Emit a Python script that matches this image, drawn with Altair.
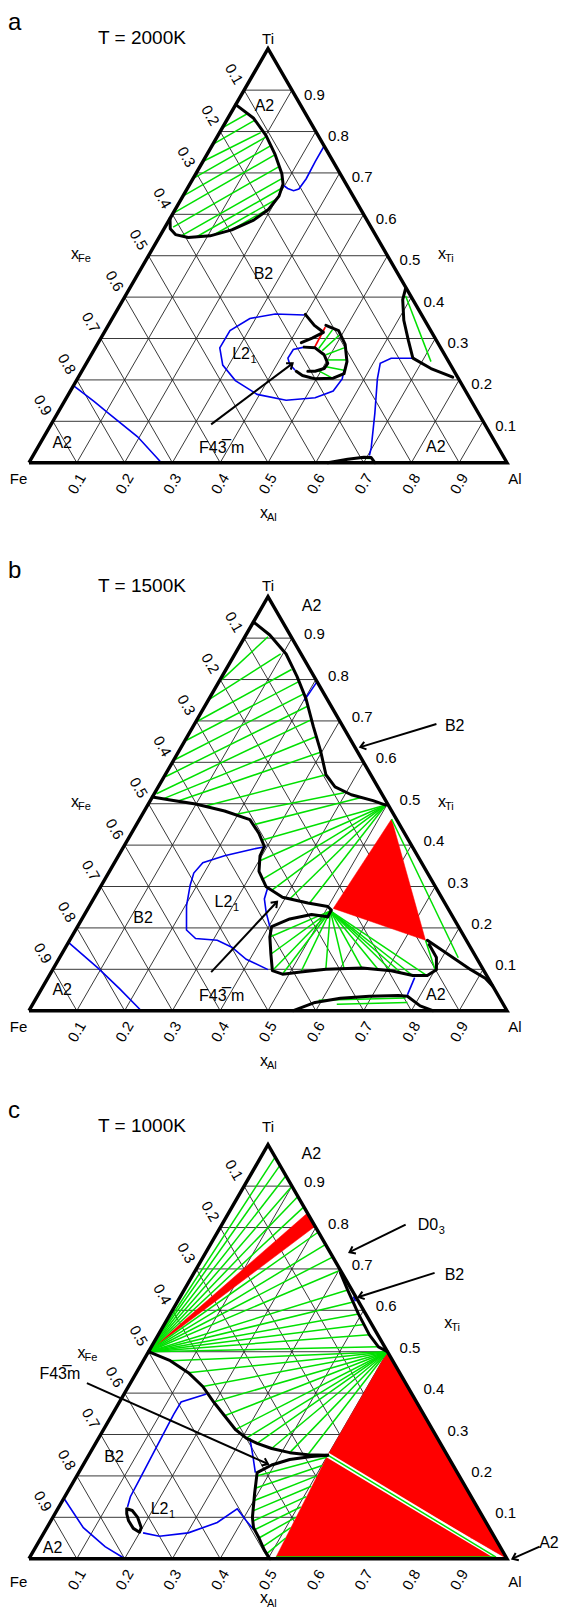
import math
import altair as alt
import pandas as pd

# ------------------------------------------------------------------ data
# all compositions are (x_Al, x_Ti); x_Fe = 1 - x_Al - x_Ti
PANELS = ["a", "b", "c"]
TEMPS = ["T = 2000K", "T = 1500K", "T = 1000K"]
TICKS = [0.1, 0.2, 0.3, 0.4, 0.5, 0.6, 0.7, 0.8, 0.9]
TICK_LABELS = ["0.1", "0.2", "0.3", "0.4", "0.5", "0.6", "0.7", "0.8", "0.9"]

# ---- panel a (2000 K)
A_BLACK_TL = [(0.0, 0.865), (0.054, 0.832), (0.101, 0.79), (0.143, 0.744), (0.180, 0.698), (0.195, 0.673),
              (0.201, 0.644), (0.195, 0.611), (0.177, 0.586), (0.143, 0.5625), (0.105, 0.548), (0.061, 0.544),
              (0.031, 0.551), (0.013, 0.565), (0.0, 0.59)]
A_TIES_TL = [((0, 0.809), (0.035, 0.843)), ((0, 0.769), (0.059, 0.8275)), ((0, 0.7275), (0.086, 0.7975)),
             ((0, 0.686), (0.103, 0.7875)), ((0, 0.644), (0.123, 0.766)), ((0, 0.6025), (0.143, 0.744)),
             ((0.017, 0.569), (0.166, 0.716)), ((0.044, 0.5475), (0.187, 0.6875)), ((0.076, 0.544), (0.197, 0.663)),
             ((0.111, 0.55), (0.2, 0.637)), ((0.143, 0.5625), (0.195, 0.614))]
A_BLUE_TR = [(0.235, 0.765), (0.235, 0.7275), (0.237, 0.686), (0.234, 0.661), (0.225, 0.657), (0.210, 0.6625), (0.199, 0.669)]
A_BLUE_BL = [(0.0, 0.186), (0.062, 0.148), (0.107, 0.119), (0.196, 0.0625), (0.277, 0.0)]
A_BLUE_LOOP = [(0.3975, 0.3567), (0.3356, 0.3592), (0.2879, 0.3483), (0.2609, 0.3192), (0.2604, 0.2775),
               (0.2874, 0.2358), (0.3326, 0.1983), (0.3948, 0.165), (0.4625, 0.1508), (0.5202, 0.1567),
               (0.5497, 0.1733), (0.554, 0.2025), (0.5474, 0.2233)]
A_BLUE_INNER = [(0.4362, 0.2792), (0.4163, 0.2733), (0.4154, 0.2525), (0.4267, 0.2375), (0.4451, 0.2233)]
A_BLACK_M1 = [(0.3989, 0.3583), (0.4311, 0.3317), (0.4584, 0.315), (0.442, 0.3008), (0.4247, 0.29)]
A_BLACK_M2 = [(0.4553, 0.3317), (0.4881, 0.3192), (0.5185, 0.2858), (0.5431, 0.2442), (0.5516, 0.215),
              (0.5343, 0.2042), (0.4972, 0.2025), (0.4666, 0.2108), (0.4487, 0.2208)]
A_BLACK_M3 = [(0.4362, 0.2792), (0.4597, 0.2775), (0.487, 0.2608), (0.505, 0.24), (0.5037, 0.2275),
              (0.4881, 0.2208), (0.4729, 0.2208)]
A_TIES_M = [((0.5008, 0.2483), (0.5387, 0.2483)), ((0.4908, 0.2608), (0.5203, 0.2775)),
            ((0.4782, 0.2708), (0.4954, 0.3092)), ((0.4682, 0.2758), (0.4744, 0.3208)),
            ((0.5054, 0.2317), (0.5475, 0.2233)), ((0.4953, 0.2217), (0.5327, 0.2042))]
A_RED_TIES = [((0.4582, 0.2775), (0.456, 0.3275))]
A_BLACK_R = [(0.5775, 0.4208), (0.5847, 0.3942), (0.612, 0.3442), (0.6468, 0.2942), (0.6768, 0.2525),
             (0.7272, 0.2275), (0.7831, 0.2067)]
A_TIES_R = [((0.5867, 0.4025), (0.7188, 0.2442))]
A_BLUE_R = [(0.6806, 0.2525), (0.6313, 0.2525), (0.6148, 0.24), (0.6276, 0.2025), (0.6639, 0.1192),
            (0.698, 0.0358), (0.7034, 0.0175)]
A_BLACK_B = [(0.625, 0.0), (0.6625, 0.0083), (0.6941, 0.0133), (0.7096, 0.0125), (0.7235, 0.0)]
A_TIES_B = [((0.694, 0.011), (0.709, 0.010))]

# ---- panel b (1500 K)
B_BLACK_1 = [(0, 0.939), (0.05, 0.9075), (0.107, 0.8617), (0.1569, 0.8075), (0.2029, 0.7533), (0.2514, 0.6867),
             (0.2957, 0.6283), (0.3362, 0.57), (0.3698, 0.5408), (0.4134, 0.5217), (0.466, 0.5075), (0.4979, 0.4967)]
B_BLACK_2 = [(0.0, 0.516), (0.0409, 0.5092), (0.0989, 0.4992), (0.1679, 0.4825), (0.2313, 0.4617), (0.2669, 0.4283),
             (0.2941, 0.3967), (0.2962, 0.3742), (0.3128, 0.3367), (0.3466, 0.2992), (0.3932, 0.2742),
             (0.4533, 0.26), (0.4992, 0.2517), (0.5109, 0.2433), (0.5117, 0.2267)]
B_BLACK_3 = [(0.5117, 0.2267), (0.4747, 0.2325), (0.4347, 0.2217), (0.4059, 0.2033), (0.4147, 0.1783),
             (0.4377, 0.1367), (0.4608, 0.0967), (0.4862, 0.0883), (0.5216, 0.0933), (0.5712, 0.1),
             (0.6453, 0.1033), (0.7093, 0.0967), (0.7605, 0.085), (0.7908, 0.085), (0.8027, 0.0992),
             (0.7882, 0.1283), (0.7571, 0.16)]
B_BLACK_4 = [(0.7483, 0.17), (0.8008, 0.1408), (0.8746, 0.0992), (0.9153, 0.0783), (0.9397, 0.06)]
B_BLACK_5 = [(0.553, 0.0), (0.5885, 0.02), (0.6365, 0.03), (0.6946, 0.035), (0.7544, 0.0367), (0.7742, 0.035),
             (0.8124, 0.0117), (0.8447, 0.0)]
B_RED = [(0.527, 0.463), (0.513, 0.247), (0.7445, 0.17)]
B_BLUE_1 = [(0.2054, 0.7967), (0.2012, 0.7492)]
B_BLUE_2 = [(0.2979, 0.3967), (0.2743, 0.3908), (0.222, 0.3742), (0.1849, 0.3575), (0.1785, 0.3325),
            (0.1855, 0.3033), (0.2029, 0.2533), (0.232, 0.195), (0.2614, 0.1742), (0.3089, 0.17),
            (0.3476, 0.1533), (0.3924, 0.1242), (0.4504, 0.0992)]
B_BLUE_3 = [(0.3504, 0.2992), (0.3574, 0.27), (0.3779, 0.2367), (0.4021, 0.2033)]
B_BLUE_4 = [(0.0, 0.165), (0.0923, 0.1033), (0.1627, 0.0533), (0.2348, 0.0)]
B_BLUE_5 = [(0.7668, 0.08), (0.7725, 0.0383)]
B_TIES_UP = [((0.0034, 0.7992), (0.0483, 0.9033)), ((0.0021, 0.7533), (0.0957, 0.8617)),
             ((0.0027, 0.6992), (0.1371, 0.8242)), ((0.0029, 0.6533), (0.1669, 0.795)),
             ((0.0031, 0.6075), (0.1929, 0.7658)), ((0.0035, 0.5658), (0.2165, 0.7367)),
             ((0.0046, 0.5242), (0.2393, 0.7033)), ((0.0245, 0.5117), (0.2692, 0.6617)),
             ((0.0577, 0.5058), (0.2977, 0.6242)), ((0.1237, 0.495), (0.3362, 0.57)),
             ((0.1947, 0.4742), (0.3958, 0.5267)), ((0.2451, 0.4492), (0.4391, 0.5158))]
B_FAN1_FROM = (0.498, 0.497)
B_FAN1_TO = [(0.2806, 0.4117), (0.301, 0.3617), (0.3285, 0.3158), (0.3622, 0.2908), (0.4105, 0.27), (0.4571, 0.26)]
B_FAN2_FROM = (0.51, 0.241)
B_FAN2_TO = [(0.415, 0.178), (0.438, 0.137), (0.461, 0.097), (0.486, 0.088), (0.522, 0.093), (0.571, 0.1),
             (0.608, 0.102), (0.645, 0.103), (0.68, 0.1), (0.709, 0.097), (0.735, 0.09), (0.76, 0.085), (0.79, 0.085)]
B_TIES_R = [((0.527, 0.463), (0.834, 0.128)), ((0.7445, 0.17), (0.80, 0.099))]
B_TIES_BOT = [((0.5936, 0.025), (0.7725, 0.0308)), ((0.636, 0.0158), (0.7817, 0.02))]

# ---- panel c (1000 K)
C_BLACK_1 = [(0, 0.5), (0.0563, 0.4784), (0.1087, 0.4493), (0.1556, 0.416), (0.1971, 0.3785), (0.2364, 0.3453),
             (0.2758, 0.312), (0.3089, 0.2912), (0.3379, 0.2787), (0.3745, 0.2662), (0.4174, 0.2562),
             (0.4577, 0.2512), (0.5, 0.25)]
C_BLACK_2 = [(0.5, 0.25), (0.4674, 0.2471), (0.4257, 0.2396), (0.3945, 0.2263), (0.3733, 0.208), (0.393, 0.1581),
             (0.4175, 0.0998), (0.4323, 0.0749), (0.4562, 0.0499), (0.482, 0.0208), (0.504, 0.0)]
C_BLACK_3 = [(0.3063, 0.6905), (0.3423, 0.6489), (0.3941, 0.5907), (0.4417, 0.5408), (0.4753, 0.5116), (0.5, 0.5)]
C_BLACK_LOOP = [(0.1442, 0.1206), (0.1577, 0.1165), (0.1774, 0.0998), (0.1974, 0.0749), (0.1991, 0.0641),
                (0.1816, 0.0732), (0.1626, 0.0915), (0.1504, 0.1082), (0.1442, 0.1206)]
C_RED_BAND = [(0, 0.5), (0.165, 0.835), (0.197, 0.803)]
C_RED_UP = [(0.5, 0.5), (0.5, 0.25), (1.0, 0.0)]
C_RED_LOW = [(0.5, 0.25), (0.515, 0.0), (0.985, 0.0)]
C_WHITE = [((0.5, 0.25), (0.985, 0.0))]
C_TIES_SEP = [((0.5, 0.25), (0.975, 0.004)), ((0.515, 0.004), (0.975, 0.004))]
C_BLUE_1 = [(0.1724, 0.3977), (0.1289, 0.3785), (0.1283, 0.3494), (0.1306, 0.2995), (0.1328, 0.2496),
            (0.1354, 0.1913), (0.1372, 0.1498), (0.1437, 0.1248)]
C_BLUE_2 = [(0.2074, 0.0624), (0.2457, 0.0541), (0.3021, 0.0624), (0.3502, 0.0874), (0.3753, 0.1206),
            (0.4088, 0.0915), (0.4344, 0.0707)]
C_BLUE_3 = [(0.3165, 0.2912), (0.3434, 0.2496), (0.3695, 0.208)]
C_BLUE_4 = [(0.0, 0.146), (0.0762, 0.0749), (0.1446, 0.0291), (0.2008, 0.0)]
C_BLUE_5 = [(0.362, 0.633), (0.372, 0.622)]
C_FAN1_FROM = (0.0, 0.5)
C_FAN1_TO = [(0.03, 0.97), (0.05, 0.95), (0.075, 0.925), (0.10, 0.90), (0.125, 0.875), (0.15, 0.85),
             (0.21, 0.788), (0.24, 0.758), (0.27, 0.728), (0.30, 0.695), (0.342, 0.649), (0.368, 0.62),
             (0.394, 0.591), (0.418, 0.566), (0.442, 0.541), (0.475, 0.512)]
C_FAN2_FROM = (0.5, 0.5)
C_FAN2_TO = [(0.0563, 0.4784), (0.1087, 0.4493), (0.1556, 0.416), (0.1971, 0.3785), (0.2364, 0.3453),
             (0.2758, 0.312), (0.3089, 0.2912), (0.3379, 0.2787), (0.3745, 0.2662), (0.4174, 0.2562), (0.4577, 0.2512)]
C_TIES_LOW = [((0.376, 0.20), (0.5, 0.245)), ((0.388, 0.17), (0.501, 0.225)), ((0.40, 0.14), (0.502, 0.2)),
              ((0.41, 0.115), (0.503, 0.175)), ((0.422, 0.09), (0.505, 0.15)), ((0.437, 0.07), (0.506, 0.125)),
              ((0.456, 0.05), (0.508, 0.1)), ((0.475, 0.03), (0.51, 0.075)), ((0.49, 0.01), (0.512, 0.05))]

# phase labels: (text, subscript, x_Al, x_Ti)
LABELS = {
    "a": [("A2", "", 0.062, 0.861), ("B2", "", 0.263, 0.455), ("L2", "1", 0.331, 0.2625),
          ("A2", "", 0.0455, 0.048), ("A2", "", 0.832, 0.038), ("F43\u0305 m", "", 0.385, 0.036)],
    "b": [("A2", "", 0.102, 0.978), ("B2", "", 0.547, 0.687), ("L2", "1", 0.294, 0.263),
          ("B2", "", 0.1265, 0.224), ("A2", "", 0.045, 0.049), ("A2", "", 0.8325, 0.037),
          ("F43\u0305 m", "", 0.3855, 0.035)],
    "c": [("A2", "", 0.102, 0.9775), ("D0", "3", 0.4526, 0.807), ("B2", "", 0.547, 0.686),
          ("F43\u0305m", "", -0.158, 0.445), ("B2", "", 0.0553, 0.2454), ("L2", "1", 0.2314, 0.1206),
          ("A2", "", 0.0367, 0.025), ("A2", "", 1.069, 0.0374)],
}
ARROWS = {
    "a": [((0.3348, 0.0925), (0.4315, 0.24))],
    "b": [((0.5061, 0.6925), (0.3748, 0.6367)), ((0.3344, 0.0933), (0.3873, 0.2633))],
    "c": [((0.3844, 0.807), (0.3003, 0.7404)), ((0.5033, 0.6905), (0.3733, 0.6323)),
          ((-0.091, 0.4243), (0.3856, 0.2288)), ((1.0536, 0.0291), (1.0114, 0.0))],
}

BLACK = {"a": [A_BLACK_TL, A_BLACK_M1, A_BLACK_M2, A_BLACK_M3, A_BLACK_R, A_BLACK_B],
         "b": [B_BLACK_1, B_BLACK_2, B_BLACK_3, B_BLACK_4, B_BLACK_5],
         "c": [C_BLACK_1, C_BLACK_2, C_BLACK_3, C_BLACK_LOOP]}
BLUE = {"a": [A_BLUE_TR, A_BLUE_BL, A_BLUE_LOOP, A_BLUE_INNER, A_BLUE_R],
        "b": [B_BLUE_1, B_BLUE_2, B_BLUE_3, B_BLUE_4, B_BLUE_5],
        "c": [C_BLUE_1, C_BLUE_2, C_BLUE_3, C_BLUE_4, C_BLUE_5]}
RED_FILL = {"a": [], "b": [B_RED], "c": [C_RED_BAND, C_RED_UP, C_RED_LOW]}
GREEN = {
    "a": A_TIES_TL + A_TIES_M + A_TIES_R + A_TIES_B,
    "b": B_TIES_UP + [(B_FAN1_FROM, p) for p in B_FAN1_TO] + [(B_FAN2_FROM, p) for p in B_FAN2_TO]
         + B_TIES_R + B_TIES_BOT,
    "c": [(C_FAN1_FROM, p) for p in C_FAN1_TO] + [(C_FAN2_FROM, p) for p in C_FAN2_TO] + C_TIES_LOW + C_TIES_SEP,
}
RED_TIES = {"a": A_RED_TIES, "b": [], "c": []}
WHITE = {"a": [], "b": [], "c": C_WHITE}

# ------------------------------------------------------------------ layout
S3 = math.sqrt(3) / 2
SIDE = 478.0          # px per unit composition
W = 552
BASE = 454.7          # local px of the Fe-Al edge
LEFT = 21.0           # local px of the Fe corner
HEIGHTS = {"a": 548, "b": 548, "c": 506}
FONT = "Liberation Sans"


def to_uv(a, t):
    return a + t / 2.0, t * S3


line_rows, seg_rows, text_rows, arrow_rows = [], [], [], []


def add_line(p, kind, pts, pid):
    for i, (a, t) in enumerate(pts):
        u, v = to_uv(a, t)
        line_rows.append(dict(panel=p, kind=kind, pid=pid, order=i, u=u, v=v))


def add_seg(p, kind, p1, p2):
    u1, v1 = to_uv(*p1)
    u2, v2 = to_uv(*p2)
    seg_rows.append(dict(panel=p, kind=kind, u1=u1, v1=v1, u2=u2, v2=v2))


def add_text(p, text, u, v, size, angle=0, align="center", baseline="middle"):
    text_rows.append(dict(panel=p, text=text, u=u, v=v, size=size, angle=angle, align=align, baseline=baseline))


px = 1.0 / SIDE
for pi, p in enumerate(PANELS):
    # grid
    for k in TICKS:
        add_seg(p, "grid", (0, k), (1 - k, k))
        add_seg(p, "grid", (k, 0), (k, 1 - k))
        add_seg(p, "grid", (1 - k, 0), (0, 1 - k))
    add_line(p, "border", [(0, 0), (1, 0), (0, 1), (0, 0)], f"{p}border")
    for j, pts in enumerate(BLACK[p]):
        add_line(p, "black", pts, f"{p}k{j}")
    for j, pts in enumerate(BLUE[p]):
        add_line(p, "blue", pts, f"{p}b{j}")
    for j, pts in enumerate(RED_FILL[p]):
        add_line(p, "redfill", list(pts) + [pts[0]], f"{p}r{j}")
    for s in GREEN[p]:
        add_seg(p, "green", s[0], s[1])
    for s in RED_TIES[p]:
        add_seg(p, "red", s[0], s[1])
    for s in WHITE[p]:
        add_seg(p, "white", s[0], s[1])
    # tick labels
    ry = -4.5 if p == "a" else 4.0
    for k, lab in zip(TICKS, TICK_LABELS):
        u, v = to_uv(0, 1 - k)
        add_text(p, lab, u - 10 * px, v + 16 * px, 15, angle=60)
        u, v = to_uv(1 - k, k)
        add_text(p, lab, u + 22.5 * px, v + ry * px, 15)
        u, v = to_uv(k, 0)
        add_text(p, lab, u, v - 21 * px, 15, angle=300)
    cy = -23 if p == "c" else -16
    add_text(p, "Fe", -10.5 * px, cy * px, 15)
    add_text(p, "Al", 1 + 8 * px, cy * px, 15)
    top = {"a": (0.9052, 0.876, 0.876), "b": (0.905, 0.8766, 0.8776), "c": (0.922, 0.8923, 0.8937)}[p]
    add_text(p, p, -LEFT * px, top[0], 24, align="left", baseline="alphabetic")
    add_text(p, TEMPS[pi], 0.1444, top[1], 19, align="left", baseline="alphabetic")
    add_text(p, "Ti", 0.5, top[2], 15, baseline="alphabetic")
    # axis names with subscripts
    fe = (0.1015, 0.431) if p == "c" else (0.0879, 0.4372)
    ti = (0.8686, 0.4937) if p == "c" else (0.8556, 0.4372)
    al = (0.4833, -0.083) if p == "c" else (0.4833, -0.1052)
    for (u, v), sub in [(fe, "Fe"), (ti, "Ti"), (al, "Al")]:
        add_text(p, "x", u, v, 16, align="left")
        add_text(p, sub, u + 7 * px, v - 5.5 * px, 11, align="left")
    for text, sub, a, t in LABELS[p]:
        u, v = to_uv(a, t)
        if sub:
            add_text(p, text, u, v, 16, align="right")
            add_text(p, sub, u + 0.5 * px, v - 6 * px, 11, align="left")
        else:
            add_text(p, text, u, v, 16)
    for (p1, p2) in ARROWS[p]:
        u1, v1 = to_uv(*p1)
        u2, v2 = to_uv(*p2)
        ang = math.degrees(math.atan2(-(v2 - v1), (u2 - u1))) % 360
        arrow_rows.append(dict(panel=p, u1=u1, v1=v1, u2=u2, v2=v2, angle=ang))

lines_df = pd.DataFrame(line_rows)
seg_df = pd.DataFrame(seg_rows)
text_df = pd.DataFrame(text_rows)
arrow_df = pd.DataFrame(arrow_rows)


def panel_chart(p):
    H = HEIGHTS[p]
    xs = alt.Scale(domain=[-LEFT / SIDE, (W - LEFT) / SIDE], nice=False, zero=False)
    ys = alt.Scale(domain=[-(H - BASE) / SIDE, BASE / SIDE], nice=False, zero=False)

    def XY(xf, yf):
        return dict(x=alt.X(xf, type="quantitative", scale=xs, axis=None),
                    y=alt.Y(yf, type="quantitative", scale=ys, axis=None))

    layers = []
    seg = seg_df[seg_df.panel == p]
    ln = lines_df[lines_df.panel == p]

    def rules(kind, color, width):
        d = seg[seg.kind == kind]
        if len(d):
            layers.append(alt.Chart(d).mark_rule(color=color, strokeWidth=width).encode(
                **XY("u1", "v1"), x2="u2:Q", y2="v2:Q"))

    def lines(kind, **mk):
        d = ln[ln.kind == kind]
        if len(d):
            layers.append(alt.Chart(d).mark_line(**mk).encode(**XY("u", "v"), detail="pid:N", order="order:Q"))

    rules("grid", "#222222", 0.9)
    lines("redfill", fill="#ff0000", stroke="#ff0000", strokeWidth=0.5, fillOpacity=1)
    rules("white", "#ffffff", 5)
    rules("green", "#00e000", 1.5)
    rules("red", "#ff0000", 1.8)
    lines("blue", color="#0000ee", strokeWidth=1.6)
    lines("black", color="#000000", strokeWidth=3, strokeCap="round", strokeJoin="round")
    lines("border", color="#000000", strokeWidth=3.4, strokeJoin="miter")
    ad = arrow_df[arrow_df.panel == p]
    if len(ad):
        layers.append(alt.Chart(ad).mark_rule(color="black", strokeWidth=2).encode(
            **XY("u1", "v1"), x2="u2:Q", y2="v2:Q"))
        layers.append(alt.Chart(ad).mark_point(shape="M-1,-0.75L0,0L-1,0.75", filled=False, stroke="black",
                                               strokeWidth=2, size=110, opacity=1).encode(
            **XY("u2", "v2"), angle=alt.Angle("angle:Q", scale=None)))
    td = text_df[text_df.panel == p]
    for (al, bl), d in td.groupby(["align", "baseline"]):
        layers.append(alt.Chart(d).mark_text(align=al, baseline=bl, font=FONT, color="black").encode(
            **XY("u", "v"), text="text:N", size=alt.Size("size:Q", scale=None),
            angle=alt.Angle("angle:Q", scale=None)))
    return alt.layer(*layers).properties(width=W, height=H)


chart = alt.vconcat(*[panel_chart(p) for p in PANELS], spacing=0, bounds="flush").properties(
    padding=0, background="white"
).configure_view(stroke=None)

chart.save("out.html", embed_options={"renderer": "svg", "actions": False})
